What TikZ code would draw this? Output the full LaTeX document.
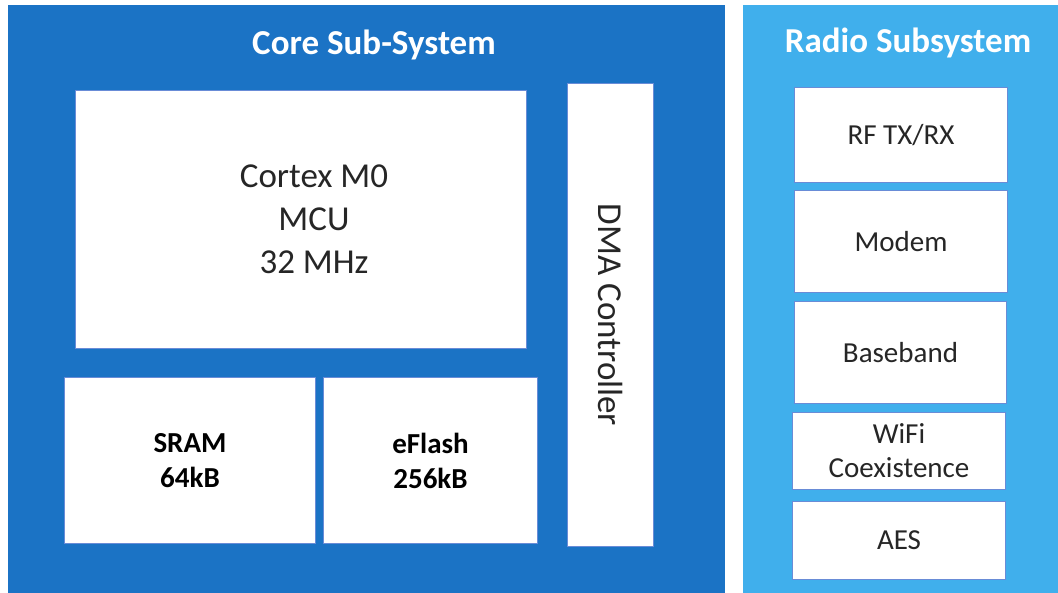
\documentclass[tikz,border=0pt]{standalone}
\usepackage{fontspec}
\setmainfont{Carlito}
\definecolor{coreblue}{RGB}{27,115,197}
\definecolor{radioblue}{RGB}{64,175,236}
\definecolor{boxedge}{RGB}{105,140,215}
\definecolor{txt}{RGB}{38,38,38}
\begin{document}
\begin{tikzpicture}[x=1pt,y=-1pt,
  panel/.style={rectangle,inner sep=0pt,anchor=north west,draw=none},
  blk/.style={rectangle,inner sep=0pt,anchor=north west,fill=white,draw=boxedge,line width=1pt,text=txt,align=center},
  ttl/.style={text=white,font=\fontsize{35}{40}\selectfont\bfseries},
  bigtxt/.style={font=\fontsize{35}{43}\selectfont},
  memtxt/.style={font=\fontsize{29}{35}\selectfont\bfseries,text=black},
  radtxt/.style={font=\fontsize{29}{34}\selectfont}]
\useasboundingbox (0,0) rectangle (1058,593);
\fill[white] (0,0) rectangle (1058,593);
% panels
\node[panel,fill=coreblue,minimum width=717pt,minimum height=588pt] (core) at (8,5) {};
\node[panel,fill=radioblue,minimum width=315pt,minimum height=588pt] (radio) at (743,5) {};
\node[ttl] (coretitle) at (374,45) {Core Sub-System};
\node[ttl] (radiotitle) at (908,43) {Radio Subsystem};
% core blocks
\node[blk,minimum width=451pt,minimum height=258pt] (cpu) at (75,90) {};
\node[bigtxt,text=txt,align=center] (cpulbl) at (314,219) {Cortex M0\\MCU\\32 MHz};
\node[blk,minimum width=86pt,minimum height=463pt] (dma) at (567,83) {};
\node[bigtxt,text=txt,rotate=-90] (dmalbl) at (dma.center) {DMA Controller};
\node[blk,memtxt,minimum width=251pt,minimum height=166pt] (sram) at (64,377) {SRAM\\64kB};
\node[blk,memtxt,minimum width=214pt,minimum height=166pt] (eflash) at (323,377) {eFlash\\256kB};
% radio blocks
\node[blk,radtxt,minimum width=213pt,minimum height=95pt] (rf) at (794,87) {RF TX/RX};
\node[blk,radtxt,minimum width=213pt,minimum height=102pt] (modem) at (794,190) {Modem};
\node[blk,radtxt,minimum width=212pt,minimum height=102pt] (bb) at (794,301) {Baseband};
\node[blk,radtxt,minimum width=213pt,minimum height=77pt] (wifi) at (792,412) {WiFi\\Coexistence};
\node[blk,radtxt,minimum width=213pt,minimum height=78pt] (aes) at (792,501) {AES};
\end{tikzpicture}
\end{document}
